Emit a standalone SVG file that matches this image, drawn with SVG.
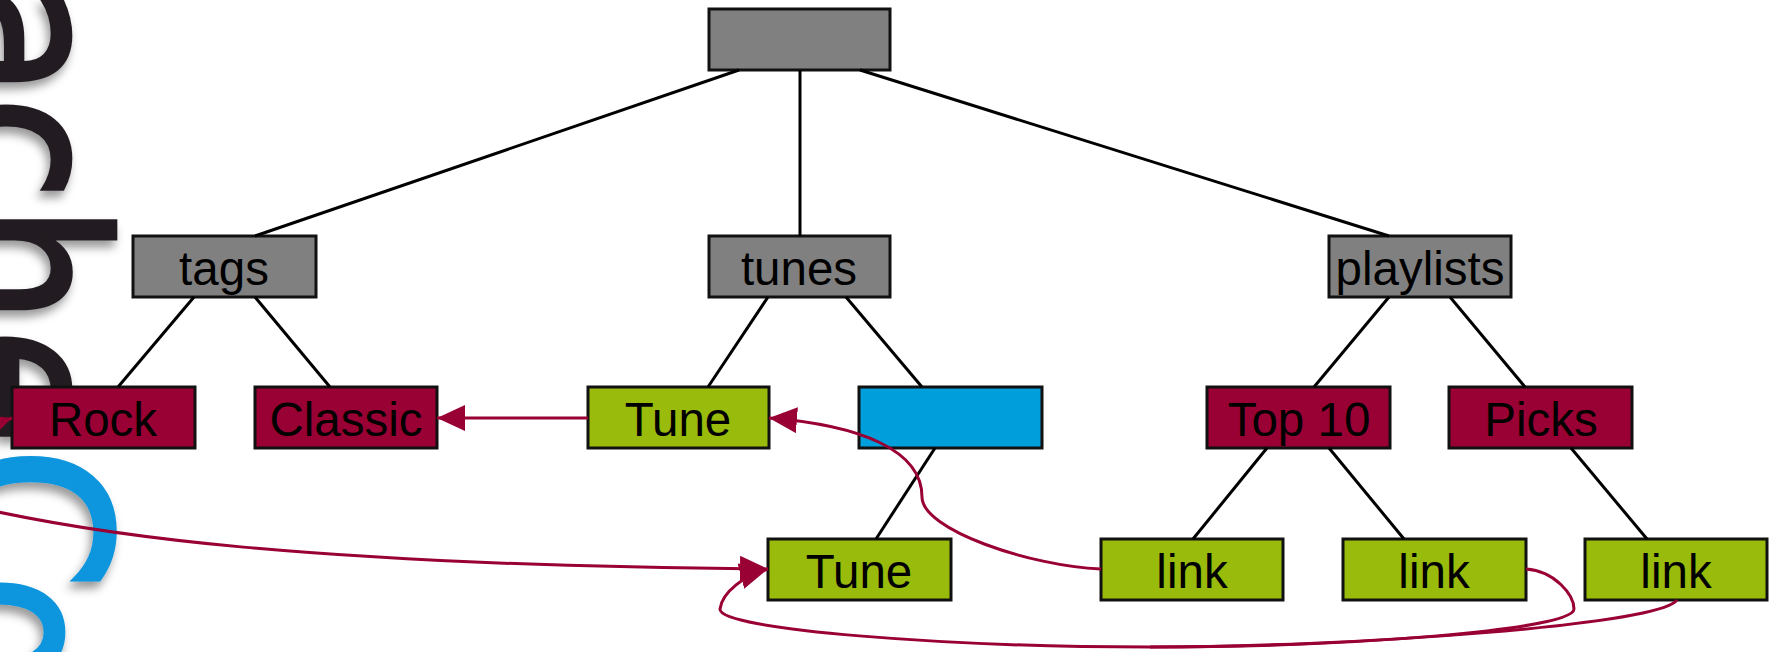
<svg xmlns="http://www.w3.org/2000/svg" width="1769" height="652" viewBox="0 0 1769 652">
  <style>
    .logo { font-family: "DejaVu Sans", sans-serif; }
    .node rect { stroke: #111; stroke-width: 3; }
    .node text { font-family: "Liberation Sans", Arial, sans-serif; font-size: 47.5px; text-anchor: middle; fill: #000; }
    .grey rect { fill: #808080; }
    .red rect { fill: #990033; }
    .green rect { fill: #99BB0C; }
    .blue rect { fill: #009EDB; }
    .tree { stroke: #000; stroke-width: 3; fill: none; }
    .ref { stroke: #990033; stroke-width: 3; fill: none; marker-end: url(#arrow); }
    .ref.plain { marker-end: none; }
  </style>
  <defs>
    <marker id="arrow" markerUnits="userSpaceOnUse" markerWidth="32" markerHeight="30" refX="28" refY="13" orient="auto">
      <path d="M0,0 L28,13 L0,26 Z" fill="#990033"/>
    </marker>
    <filter id="shadow" x="-20%" y="-20%" width="140%" height="140%">
      <feDropShadow dx="-3" dy="7" stdDeviation="5" flood-color="#000" flood-opacity="0.4"/>
    </filter>
  </defs>
  <rect width="1769" height="652" fill="#fff"/>
  <g id="logo" class="logo" filter="url(#shadow)">
    <text transform="translate(-55,0) rotate(90) scale(1,1.17)" x="-19 96 204 328" font-size="190" fill="#231f20" stroke="#231f20" stroke-width="4">ache</text>
    <text transform="translate(-50,447) rotate(90) scale(1,1.08)" font-size="205" fill="#0b95dd" stroke="#0b95dd" stroke-width="5">C</text>
    <text transform="translate(-62,574) rotate(90) scale(1,1.17)" font-size="190" fill="#0b95dd" stroke="#0b95dd" stroke-width="4">o</text>
  </g>
  <g id="node-root" class="node grey"><rect x="709" y="9" width="181" height="61"/></g>
  <g id="node-tags" class="node grey"><rect x="133" y="236" width="183" height="61"/><text x="224" y="285">tags</text></g>
  <g id="node-tunes" class="node grey"><rect x="709" y="236" width="181" height="61"/><text x="799" y="285">tunes</text></g>
  <g id="node-playlists" class="node grey"><rect x="1329" y="236" width="182" height="61"/><text x="1420" y="285">playlists</text></g>
  <g id="node-rock" class="node red"><rect x="12" y="387" width="183" height="61"/><text x="103" y="436">Rock</text></g>
  <g id="node-classic" class="node red"><rect x="255" y="387" width="182" height="61"/><text x="346" y="436">Classic</text></g>
  <g id="node-tune1" class="node green"><rect x="588" y="387" width="181" height="61"/><text x="678" y="436">Tune</text></g>
  <g id="node-blue" class="node blue"><rect x="859" y="387" width="183" height="61"/></g>
  <g id="node-top10" class="node red"><rect x="1207" y="387" width="183" height="61"/><text x="1299" y="436">Top 10</text></g>
  <g id="node-picks" class="node red"><rect x="1449" y="387" width="183" height="61"/><text x="1541" y="436">Picks</text></g>
  <g id="node-tune2" class="node green"><rect x="768" y="539" width="183" height="61"/><text x="859" y="588">Tune</text></g>
  <g id="node-link1" class="node green"><rect x="1101" y="539" width="182" height="61"/><text x="1192" y="588">link</text></g>
  <g id="node-link2" class="node green"><rect x="1343" y="539" width="183" height="61"/><text x="1434" y="588">link</text></g>
  <g id="node-link3" class="node green"><rect x="1585" y="539" width="182" height="61"/><text x="1676" y="588">link</text></g>
  <g id="connectors">
    <path class="tree" d="M739,70 L255,236"/>
    <path class="tree" d="M800,70 L800,236"/>
    <path class="tree" d="M860,70 L1389,236"/>
    <path class="tree" d="M194,297 L118,387"/>
    <path class="tree" d="M255,297 L330,387"/>
    <path class="tree" d="M768,297 L708,387"/>
    <path class="tree" d="M846,297 L922,387"/>
    <path class="tree" d="M935,448 L876,539"/>
    <path class="tree" d="M1389,297 L1314,387"/>
    <path class="tree" d="M1450,297 L1525,387"/>
    <path class="tree" d="M1267,448 L1193,539"/>
    <path class="tree" d="M1329,448 L1404,539"/>
    <path class="tree" d="M1571,448 L1647,539"/>
    <path class="ref" d="M588,418 L437,418"/>
    <path class="ref" d="M-30,445 C-15,432 -5,424 12,418"/>
    <path class="ref" d="M-20,508 C100,535 300,565 768,569"/>
    <path class="ref" d="M1101,569 C1030,566 922,530 922,497 C922,450 860,425 769,418"/>
    <path class="ref" d="M1526,569 C1555,571 1574,595 1574,609 C1574,630 1350,647 1150,647 C950,647 718,630 720,609 C722,592 745,575 768,569"/>
    <path class="ref plain" d="M1677,600 C1660,625 1350,647 1150,647"/>
  </g>
</svg>
